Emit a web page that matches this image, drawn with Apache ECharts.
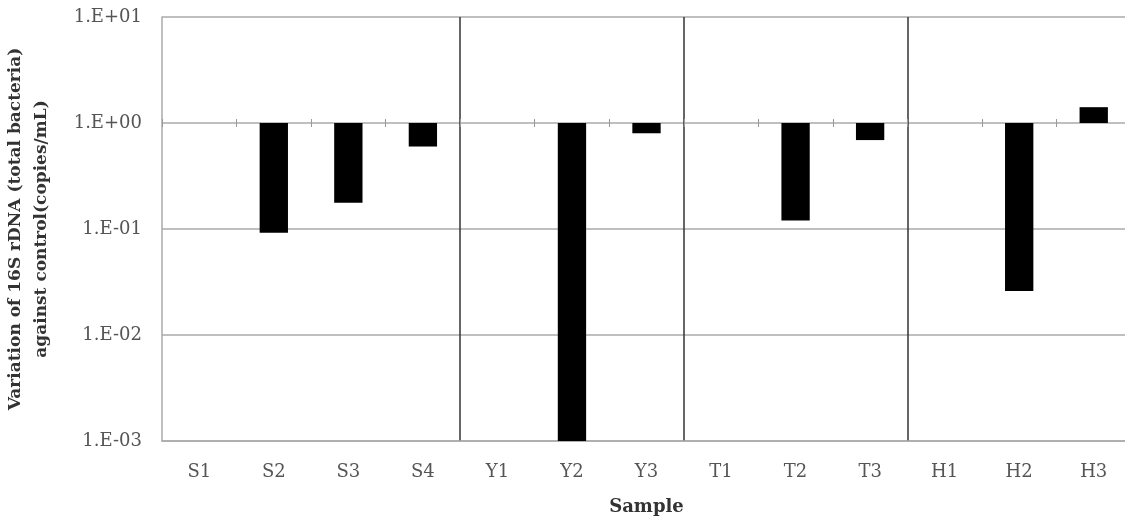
<!DOCTYPE html>
<html>
<head>
<meta charset="utf-8">
<script src="https://cdn.jsdelivr.net/npm/echarts@6/dist/echarts.min.js"></script>
<style>
  html, body { margin: 0; padding: 0; background: #fff; }
  #chart { width: 1125px; height: 521px; }
</style>
</head>
<body>
<div id="chart"></div>
<script>
// samples, grouped S / Y / T / H
var samples = ['S1', 'S2', 'S3', 'S4', 'Y1', 'Y2', 'Y3', 'T1', 'T2', 'T3', 'H1', 'H2', 'H3'];
// variation against control (log scale, bars grow from 1)
var variation = [null, 0.092, 0.177, 0.60, null, 0.001, 0.80, null, 0.12, 0.69, null, 0.026, 1.41];
// boundaries (category index) where a group separator is drawn
var groupBreaks = [4, 7, 10];

var serif = '"DejaVu Serif", "Liberation Serif", serif';

var chart = echarts.init(document.getElementById('chart'));
chart.setOption({
  animation: false,
  grid: {
    left: 162,
    top: 17,
    width: 969,
    height: 424,
    outerBoundsMode: 'none'
  },
  xAxis: [
    {
      type: 'category',
      data: samples,
      position: 'bottom',
      name: 'Sample',
      nameLocation: 'middle',
      nameGap: 57,
      nameTextStyle: { fontFamily: serif, fontWeight: 'bold', fontSize: 18, color: '#333' },
      axisLine: { show: true, lineStyle: { color: '#aaa', width: 1.5 } },
      axisTick: { show: false },
      axisLabel: { fontFamily: serif, fontSize: 18, color: '#555', margin: 22 },
      // dark lines between the sample groups
      splitLine: {
        show: true,
        interval: function (i) { return groupBreaks.indexOf(i) >= 0; },
        lineStyle: { color: '#333', width: 1.5 }
      }
    },
    {
      // tick marks sitting on the 1.E+00 line
      type: 'category',
      data: samples,
      position: 'bottom',
      offset: -322,
      axisLine: { show: false },
      axisTick: { show: true, length: 8, lineStyle: { color: '#999' } },
      axisLabel: { show: false },
      splitLine: { show: false }
    }
  ],
  yAxis: {
    type: 'log',
    logBase: 10,
    min: 0.001,
    max: 10,
    name: 'Variation of 16S rDNA (total bacteria)\nagainst control(copies/mL)',
    nameLocation: 'middle',
    nameRotate: 90,
    nameGap: 107,
    nameTextStyle: { fontFamily: serif, fontWeight: 'bold', fontSize: 17, color: '#333', lineHeight: 26 },
    axisLine: { show: true, lineStyle: { color: '#aaa', width: 1.5 } },
    axisTick: { show: false },
    axisLabel: {
      fontFamily: serif,
      fontSize: 18,
      color: '#555',
      margin: 20,
      formatter: function (v) {
        var e = Math.round(Math.log10(v));
        return '1.E' + (e < 0 ? '-' : '+') + (Math.abs(e) < 10 ? '0' : '') + Math.abs(e);
      }
    },
    splitLine: { show: true, lineStyle: { color: '#aaa', width: 1.5 } }
  },
  series: [
    {
      type: 'bar',
      xAxisIndex: 0,
      data: variation,
      barWidth: '38%',
      itemStyle: { color: '#000' }
    }
  ]
});
</script>
</body>
</html>
